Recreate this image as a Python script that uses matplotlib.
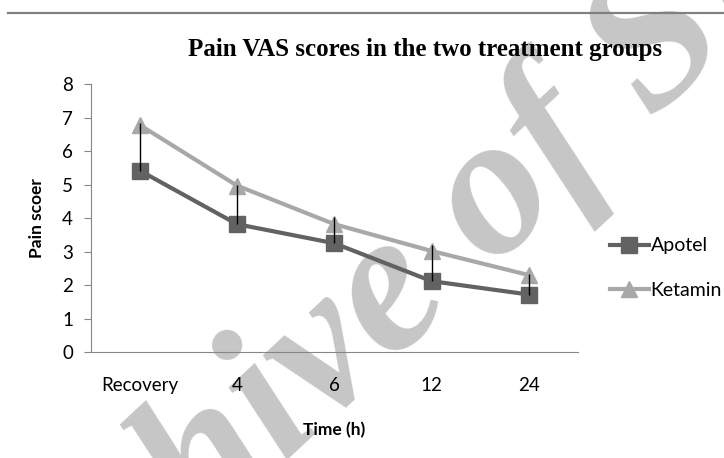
import matplotlib
matplotlib.use("Agg")
import matplotlib.pyplot as plt
from matplotlib.lines import Line2D

times = ["Recovery", "4", "6", "12", "24"]
apotel = [5.42, 3.82, 3.25, 2.12, 1.72]
ketamin = [6.78, 4.97, 3.82, 3.02, 2.30]
apotel_err_up = [1.42, 1.16, 0.78, 1.07, 0.60]

plt.rcParams['font.family'] = ['Lato', 'DejaVu Sans']

fig = plt.figure(figsize=(7.24, 4.58), dpi=100)
ax = fig.add_axes([0.1257, 0.231, 0.672, 0.5855])
ax.patch.set_alpha(0)

# watermark behind everything
fig.text(0.565, 0.37, "Archive of SID", fontsize=145, family='Liberation Serif',
         style='italic', weight='bold', color='#c6c6c6', rotation=43,
         ha='center', va='center', zorder=-5)

# top rule
fig.add_artist(Line2D([0.011, 1.0], [0.972, 0.972], color='#808080', lw=1.6))

x = range(len(times))
ax.plot(x, apotel, color='#626262', lw=3, marker='s', markersize=12, label='Apotel', zorder=3)
ax.plot(x, ketamin, color='#a8a8a8', lw=3, marker='^', markersize=12, label='Ketamin', zorder=3)
ax.errorbar(x, apotel, yerr=[[0] * len(times), apotel_err_up], fmt='none',
            ecolor='black', elinewidth=1, capsize=0, zorder=4)

ax.set_xlim(-0.5, len(times) - 0.5)
ax.set_ylim(0, 8)
ax.set_yticks(range(0, 9))
ax.set_xticks(list(x))
ax.set_xticklabels(times)
ax.tick_params(axis='x', length=0, pad=18, labelsize=13.5)
ax.tick_params(axis='y', length=5, color='#868686', labelsize=13.5, direction='out', pad=8)
for s in ['top', 'right']:
    ax.spines[s].set_visible(False)
for s in ['left', 'bottom']:
    ax.spines[s].set_color('#868686')

ax.set_xlabel("Time (h)", fontsize=12.5, weight='bold', labelpad=20)
ax.set_ylabel("Pain scoer", fontsize=12.5, weight='bold', labelpad=12)

fig.text(0.587, 0.893, "Pain VAS scores in the two treatment groups", family='Liberation Serif',
         fontsize=18, weight='bold', ha='center', va='center')

fig.legend(loc='center left', bbox_to_anchor=(0.818, 0.415), frameon=False, fontsize=14,
           handlelength=2.0, handletextpad=0.1, labelspacing=1.4)

fig.savefig("out.png", dpi=100)
